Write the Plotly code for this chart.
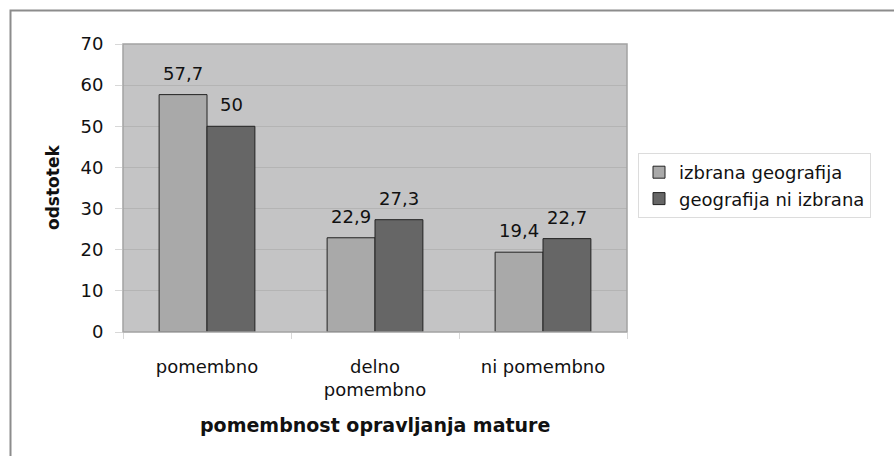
import plotly.graph_objects as go

# Survey results: importance of passing the matura, by geography choice
categories = ["pomembno", "delno<br>pomembno", "ni pomembno"]
series_names = ["izbrana geografija", "geografija ni izbrana"]
izbrana = [57.7, 22.9, 19.4]
ni_izbrana = [50.0, 27.3, 22.7]
y_ticks = [0, 10, 20, 30, 40, 50, 60, 70]

W, H = 894, 456
L, R, T, B = 123, 627, 44, 332  # plot-area edges in pixels


def px_x(x):
    return (x - L) / (R - L)


def px_y(y):
    return (B - y) / (B - T)


FONT = "DejaVu Sans"
TXT = "#111111"
colors = ["#a9a9a9", "#666666"]

fig = go.Figure()
for name, vals, col in zip(series_names, [izbrana, ni_izbrana], colors):
    fig.add_trace(go.Bar(
        x=categories, y=vals, name=name,
        marker=dict(color=col, line=dict(color="#222222", width=1)),
        hoverinfo="x+y",
    ))


def fmt(v):
    s = f"{v:.1f}".replace(".", ",")
    return s[:-2] if s.endswith(",0") else s


# value labels above each bar
annotations = []
for vals, shift in [(izbrana, -24), (ni_izbrana, 24)]:
    for cat, v in zip(categories, vals):
        annotations.append(dict(
            x=cat, y=v, xref="x", yref="y", text=fmt(v), showarrow=False,
            xshift=shift, yshift=9, yanchor="bottom", xanchor="center",
            font=dict(family=FONT, size=18, color=TXT),
        ))

# axis titles
annotations.append(dict(
    x=0.5, y=px_y(425), xref="paper", yref="paper", showarrow=False,
    text="<b>pomembnost opravljanja mature</b>", xanchor="center", yanchor="middle",
    font=dict(family=FONT, size=19, color=TXT),
))
annotations.append(dict(
    x=px_x(53), y=0.5, xref="paper", yref="paper", showarrow=False,
    text="<b>odstotek</b>", textangle=-90, xanchor="center", yanchor="middle",
    font=dict(family=FONT, size=17, color=TXT),
))

shapes = [
    # outer chart frame
    dict(type="rect", xref="paper", yref="paper",
         x0=px_x(10.5), x1=px_x(910), y0=px_y(470), y1=px_y(10.5),
         line=dict(color="#8c8c8c", width=2), layer="below"),
    # plot-area frame
    dict(type="rect", xref="paper", yref="paper", x0=0, x1=1, y0=0, y1=1,
         line=dict(color="#a3a3a3", width=1.5), layer="above"),
]

fig.update_layout(
    width=W, height=H,
    margin=dict(l=L, r=W - R, t=T, b=H - B, autoexpand=False),
    paper_bgcolor="white", plot_bgcolor="#c4c4c5",
    barmode="group", bargap=0.43, bargroupgap=0,
    font=dict(family=FONT, size=18, color=TXT),
    showlegend=True,
    legend=dict(
        x=px_x(638), y=px_y(153), xanchor="left", yanchor="top",
        bgcolor="white", bordercolor="#dcdcdc", borderwidth=1,
        font=dict(family=FONT, size=18, color=TXT),
        itemwidth=30, tracegroupgap=0,
    ),
    annotations=annotations,
    shapes=shapes,
)
fig.update_xaxes(
    type="category", tickson="boundaries", ticks="outside", ticklen=6,
    tickcolor="#d8d8d8", showgrid=False, showline=False,
    tickfont=dict(family=FONT, size=18, color=TXT), ticklabelstandoff=22,
    automargin=False,
)
fig.update_yaxes(
    range=[0, 70], tickvals=y_ticks, ticks="outside", ticklen=7,
    tickcolor="#d8d8d8", showgrid=True, gridcolor="#b4b4b4", gridwidth=1,
    zeroline=False, showline=False,
    tickfont=dict(family=FONT, size=18, color=TXT), ticklabelstandoff=8,
    automargin=False,
)

fig.write_html("out.html")
